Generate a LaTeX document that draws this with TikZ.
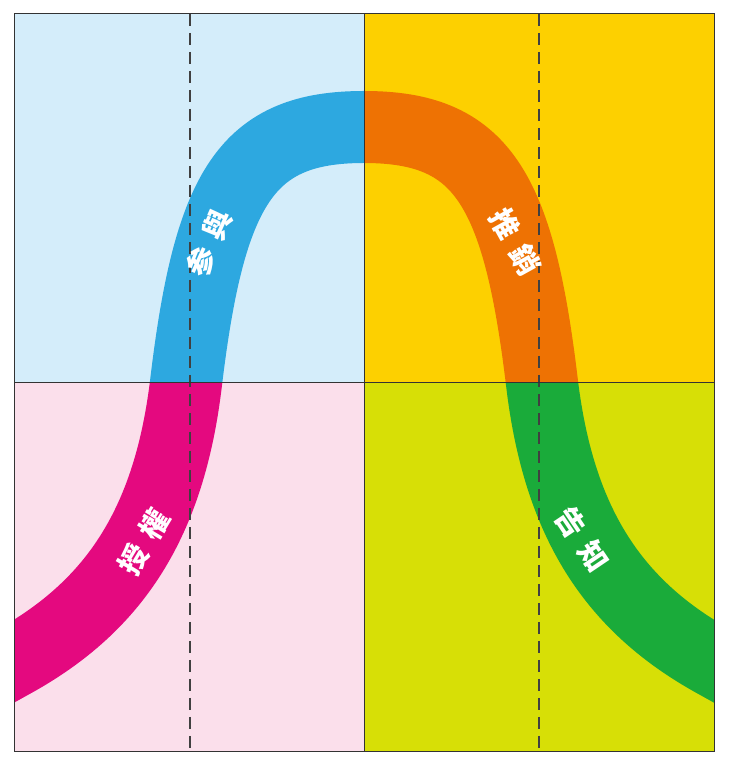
\documentclass[tikz,border=0pt]{standalone}
\usepackage{fontspec}
\usepackage{xcolor}
\usepackage{tikz}
\newfontfamily\cjk{Noto Sans CJK TC}
\definecolor{bgblue}{RGB}{212,237,250}
\definecolor{bgyellow}{RGB}{253,208,0}
\definecolor{bgpink}{RGB}{251,223,235}
\definecolor{bglime}{RGB}{215,223,6}
\definecolor{arcblue}{RGB}{45,168,224}
\definecolor{arcorange}{RGB}{238,114,3}
\definecolor{arcmagenta}{RGB}{228,9,127}
\definecolor{arcgreen}{RGB}{26,171,58}

\begin{document}
\begin{tikzpicture}[x=1pt,y=1pt]
    \tikzstyle{band}=[line width=72pt]
    \tikzstyle{word}=[text=white,inner sep=0pt,font=\cjk\bfseries\fontsize{29}{29}\selectfont]
    \tikzstyle{frame}=[draw=black!80,line width=1pt]
    \tikzstyle{guide}=[draw=black!75,line width=1.4pt,dash pattern=on 12pt off 7pt]
    \useasboundingbox (0,0) rectangle (729,768);

    \foreach \qx/\qy/\bg/\fg in {14/385/bgblue/arcblue,364/385/bgyellow/arcorange,14/16/bgpink/arcmagenta,364/16/bglime/arcgreen} {
        \begin{scope}
            \clip (\qx,\qy) rectangle ++(350,369);
            \fill[\bg] (\qx,\qy) rectangle ++(350,369);
            \draw[band,\fg] (-30,82) -- (14,106.5) .. controls (114.6,162.3) and (169.2,245) .. (186,385)
                .. controls (209.6,582) and (247,641) .. (364,641)
                .. controls (481,641) and (518.4,582) .. (542,385)
                .. controls (558.8,245) and (613.4,162.3) .. (714,106.5) -- (758,82);
        \end{scope}
    };

    \foreach \gx in {190,539} {
        \draw[guide] (\gx,754) -- (\gx,16);
    };

    \draw[frame] (14,16) rectangle (714,754);
    \draw[frame] (364,16) -- (364,754);
    \draw[frame] (14,385) -- (714,385);

    \node[word,rotate=66] (join) at (209,525) {参\hspace{12pt}與};
    \node[word,rotate=-61] (sell) at (515,526) {推\hspace{12pt}銷};
    \node[word,rotate=59] (grant) at (144,226) {授\hspace{12pt}權};
    \node[word,rotate=-56] (tell) at (582,229) {告\hspace{12pt}知};
\end{tikzpicture}
\end{document}
